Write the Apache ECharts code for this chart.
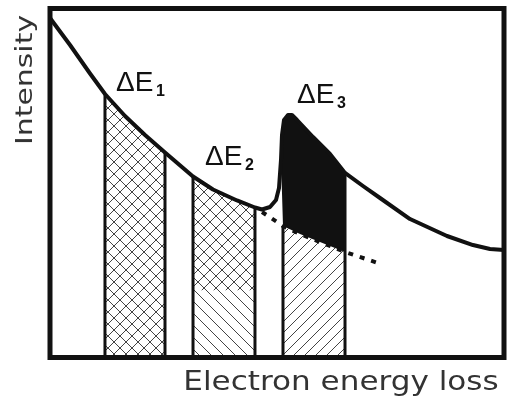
<!DOCTYPE html>
<html>
<head>
<meta charset="utf-8">
<script src="https://cdn.jsdelivr.net/npm/echarts@6/dist/echarts.min.js"></script>
<style>
  html, body { margin: 0; padding: 0; background: #fff; }
  #chart { width: 509px; height: 402px; }
</style>
</head>
<body>
<div id="chart"></div>
<script>
// Energy-loss spectrum (arbitrary units): loss value and intensity
const lossAxis  = [0, 4.41, 8.81, 12.11, 16.52, 20.93, 25.33, 31.50, 35.90, 41.19, 45.15, 46.70,
                   48.46, 49.78, 50.44, 50.88, 51.10, 51.54, 52.42, 53.30, 54.41, 57.93, 61.67,
                   64.98, 68.94, 72.69, 79.30, 87.44, 93.17, 96.92, 100];
const intensity = [97.28, 89.54, 81.38, 75.50, 69.20, 63.75, 58.74, 51.86, 48.14, 44.99, 42.98, 42.41,
                   43.12, 45.13, 48.57, 56.59, 63.75, 68.05, 69.48, 69.48, 68.05, 63.18, 58.31,
                   52.87, 49.14, 45.70, 39.68, 34.81, 32.23, 31.09, 30.80];

// Pre-edge background extrapolated under the edge
const bgLoss      = [46.70, 51.32, 55.07, 59.47, 64.98, 72.25];
const bgIntensity = [41.69, 37.68, 35.39, 33.09, 30.23, 27.08];

// Energy windows
const windowNames = ['ΔE', 'ΔE', 'ΔE'];
const windowIndex = ['1', '2', '3'];
const windowStart = [12.11, 31.50, 51.32];
const windowEnd   = [25.33, 45.15, 64.98];
const edgeOnsetLoss = 50.88;     // where the edge signal rises above the background
const crossFloor = 19.3;         // lower limit of the cross-hatched part of the second window

// Window label anchors (left edge, baseline)
const labelLoss      = [14.54, 34.14, 54.41];
const labelIntensity = [75.79, 54.58, 72.35];

const INK = '#111';
const spectrum   = lossAxis.map((x, i) => [x, intensity[i]]);
const background = bgLoss.map((x, i) => [x, bgIntensity[i]]);
const within = (pts, a, b) => pts.filter(p => p[0] >= a - 1e-6 && p[0] <= b + 1e-6);
const valueAt = (pts, x) => pts.find(p => Math.abs(p[0] - x) < 1e-6)[1];

// Hatch tiles drawn on small canvases and repeated as fill patterns
function hatchTile(dirs, size, paper) {
  const cv = document.createElement('canvas');
  cv.width = cv.height = size;
  const g = cv.getContext('2d');
  if (paper) { g.fillStyle = paper; g.fillRect(0, 0, size, size); }
  g.strokeStyle = '#444';
  g.lineWidth = 1;
  g.beginPath();
  dirs.forEach(d => {
    for (let k = -1; k <= 1; k++) {
      const o = k * size;
      if (d === '/') { g.moveTo(o - 1, size + 1); g.lineTo(o + size + 1, -1); }
      else { g.moveTo(o - 1, -1); g.lineTo(o + size + 1, size + 1); }
    }
  });
  g.stroke();
  return { image: cv, repeat: 'repeat' };
}
const crossFill = hatchTile(['/', '\\'], 12, '#fff');
const backFill  = hatchTile(['\\'], 12, '#fff');
const fwdOver   = hatchTile(['/'], 12, null);
const fwdFill   = hatchTile(['/'], 11, '#fff');

function renderWindow(params, api) {
  const i = params.dataIndex;
  const c = p => api.coord(p);
  const a = windowStart[i], b = windowEnd[i];
  const kids = [];
  let topA, topB;
  if (i < 2) {
    const top = within(spectrum, a, b);
    kids.push({ type: 'polygon', shape: { points: [[a, 0], ...top, [b, 0]].map(c) },
                style: { fill: i === 0 ? crossFill : backFill } });
    if (i === 1) {
      kids.push({ type: 'polygon', shape: { points: [[a, crossFloor], ...top, [b, crossFloor]].map(c) },
                  style: { fill: fwdOver } });
    }
    topA = valueAt(spectrum, a); topB = valueAt(spectrum, b);
  } else {
    const base = within(background, a, b);
    kids.push({ type: 'polygon', shape: { points: [[a, 0], ...base, [b, 0]].map(c) },
                style: { fill: fwdFill } });
    const edge = within(spectrum, edgeOnsetLoss, b);
    kids.push({ type: 'polygon', shape: { points: [...edge, ...base.slice().reverse()].map(c) },
                style: { fill: INK } });
    topA = valueAt(background, a); topB = valueAt(spectrum, b);
  }
  [[a, topA], [b, topB]].forEach(([x, y]) => {
    const p0 = c([x, 0]), p1 = c([x, y]);
    kids.push({ type: 'line', shape: { x1: p0[0], y1: p0[1], x2: p1[0], y2: p1[1] },
                style: { stroke: INK, lineWidth: 3 } });
  });
  return { type: 'group', children: kids };
}

function renderLabel(params, api) {
  const i = params.dataIndex;
  const p = api.coord([labelLoss[i], labelIntensity[i]]);
  return {
    type: 'group',
    children: [
      { type: 'text', x: p[0], y: p[1] - 10,
        style: { text: windowNames[i], font: '28px "Liberation Sans", Arial, sans-serif',
                 fill: INK, align: 'left', verticalAlign: 'middle' } },
      { type: 'text', x: p[0] + 40, y: p[1] - 1,
        style: { text: windowIndex[i], font: 'bold 16px "Liberation Sans", Arial, sans-serif',
                 fill: INK, align: 'left', verticalAlign: 'middle' } }
    ]
  };
}

const chart = echarts.init(document.getElementById('chart'), null, { renderer: 'canvas' });
chart.setOption({
  animation: false,
  backgroundColor: '#fff',
  grid: { left: 50, top: 8.5, right: 5, bottom: 44.5, show: true, z: 10,
          borderColor: INK, borderWidth: 5, backgroundColor: 'transparent' },
  xAxis: { type: 'value', min: 0, max: 100, show: false },
  yAxis: { type: 'value', min: 0, max: 100, show: false },
  graphic: [
    { type: 'text', x: 26.5, y: 80, rotation: Math.PI / 2, scaleX: 1.3,
      style: { text: 'Intensity', font: '23px "DejaVu Sans"', fill: '#333',
               align: 'center', verticalAlign: 'middle' } },
    { type: 'text', x: 341, y: 382.5, scaleX: 1.15,
      style: { text: 'Electron energy loss', font: '27px "DejaVu Sans"', fill: '#333',
               align: 'center', verticalAlign: 'middle' } }
  ],
  series: [
    { type: 'custom', name: 'windows', data: [0, 1, 2], renderItem: renderWindow, z: 2, silent: true },
    { type: 'line', name: 'background', data: background, showSymbol: false, z: 3, silent: true,
      lineStyle: { color: INK, width: 4, type: [5, 7], cap: 'butt' } },
    { type: 'line', name: 'spectrum', data: spectrum, showSymbol: false, z: 4, silent: true,
      smooth: false,
      lineStyle: { color: INK, width: 4, join: 'round' } },
    { type: 'custom', name: 'labels', data: [0, 1, 2], renderItem: renderLabel, z: 5, silent: true }
  ]
});
</script>
</body>
</html>
